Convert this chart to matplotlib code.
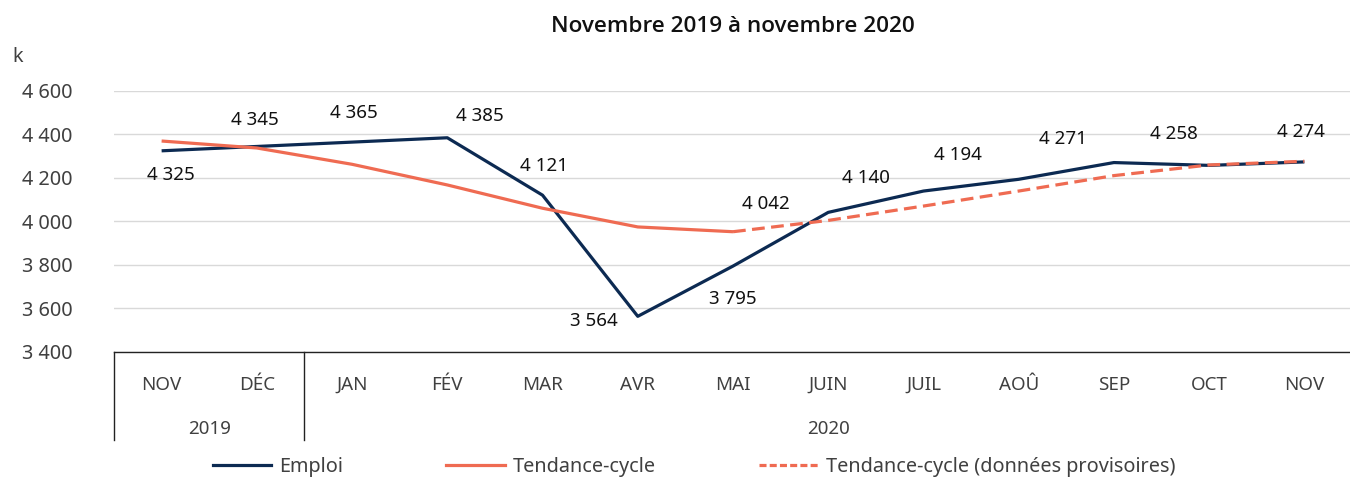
import numpy as np
import matplotlib
matplotlib.use("Agg")
import matplotlib.pyplot as plt
import matplotlib.transforms as mtransforms
from matplotlib.lines import Line2D

# ---- data ----
months = ["NOV", "DÉC", "JAN", "FÉV", "MAR", "AVR", "MAI", "JUIN", "JUIL", "AOÛ", "SEP", "OCT", "NOV"]
years = ["2019", "2020"]
year_spans = [(0, 1), (2, 12)]  # first and last month index of each year
emploi = [4325, 4345, 4365, 4385, 4121, 3564, 3795, 4042, 4140, 4194, 4271, 4258, 4274]
tendance = [4370, 4338, 4263, 4168, 4061, 3975, 3953, np.nan, np.nan, np.nan, np.nan, np.nan, np.nan]
tendance_prov = [np.nan, np.nan, np.nan, np.nan, np.nan, np.nan, 3953, 4005, 4071, 4140, 4211, 4260, 4277]
yticks = [3400, 3600, 3800, 4000, 4200, 4400, 4600]
# label offsets in pixels (dx, dy)
label_offsets = [(9, -24), (-2, 26), (2, 29), (33, 22), (2, 29), (-44, -5), (0, -33),
                 (-62, 8), (-58, 13), (-61, 24), (-51, 24), (-35, 31), (-3, 30)]

NAVY = "#0C2A52"
ORANGE = "#EF6B52"
GRID = "#D9D9D9"
TXT = "#404040"

plt.rcParams["font.family"] = ["Noto Sans", "DejaVu Sans"]
FS = 13.5
FT = 14.3

W, H = 1350, 478
fig = plt.figure(figsize=(W / 100, H / 100), dpi=100)
left, right, bottom, top = 114 / W, 1352 / W, 1 - 352 / H, 1 - 91 / H
ax = fig.add_axes([left, bottom, right - left, top - bottom])

x = np.arange(len(months))
ax.plot(x, emploi, color=NAVY, lw=2.3, solid_capstyle="butt", zorder=3)
ax.plot(x, tendance, color=ORANGE, lw=2.3, solid_capstyle="butt", zorder=4)
ax.plot(x, tendance_prov, color=ORANGE, lw=2.3, dashes=(4, 2), zorder=4)

ax.set_xlim(-0.5, len(months) - 0.5)
ax.set_ylim(yticks[0], yticks[-1])
ax.set_yticks(yticks)
ax.set_yticklabels([f"{v:,}".replace(",", " ") for v in yticks], fontsize=FT, color=TXT,
                   fontweight="light")
ax.tick_params(axis="y", length=0, pad=30)
for lbl in ax.get_yticklabels():
    lbl.set_horizontalalignment("right")
ax.grid(axis="y", color=GRID, lw=1)
ax.set_axisbelow(True)
for s in ["top", "right", "left"]:
    ax.spines[s].set_visible(False)
ax.spines["bottom"].set_color("#222222")
ax.spines["bottom"].set_linewidth(1)
ax.spines["bottom"].set_zorder(1)

ax.set_xticks(x)
ax.set_xticklabels(months, fontsize=FS, color=TXT, fontweight="light")
ax.tick_params(axis="x", length=0, pad=17)

trans = mtransforms.blended_transform_factory(ax.transData, ax.transAxes)
sep_depth = 88 / (352 - 91)
for (a, b), yr in zip(year_spans, years):
    ax.annotate(yr, xy=((a + b) / 2, 0), xycoords=trans, xytext=(0, -77),
                textcoords="offset pixels", ha="center", va="center",
                fontsize=FS, color=TXT, fontweight="light", annotation_clip=False)
    ax.add_line(Line2D([a - 0.5, a - 0.5], [0, -sep_depth], transform=trans,
                       color="#222222", lw=1, clip_on=False))

# data labels
for i, (v, (dx, dy)) in enumerate(zip(emploi, label_offsets)):
    ax.annotate(f"{v:,}".replace(",", " "), xy=(i, v), xytext=(dx, dy),
                textcoords="offset pixels", ha="center", va="center",
                fontsize=FS, color="#111111")

fig.text(18 / W, 1 - 57 / H, "k", fontsize=FT, color=TXT, ha="center", va="center",
         fontweight="light")
fig.text((left + right) / 2, 1 - 27 / H, "Novembre 2019 à novembre 2020",
         fontsize=16.2, fontweight="semibold", family=["Open Sans", "DejaVu Sans"],
         fontstretch="normal", color="#111111", ha="center", va="center")

handles = [Line2D([], [], color=NAVY, lw=2.3),
           Line2D([], [], color=ORANGE, lw=2.3),
           Line2D([], [], color=ORANGE, lw=2.3, dashes=(2.2, 1))]
leg = fig.legend(handles, ["Emploi", "Tendance-cycle", "Tendance-cycle (données provisoires)"],
                 loc="center", bbox_to_anchor=(694 / W, 1 - 467 / H), ncol=3, frameon=False,
                 prop={"size": FT, "weight": "light"}, handlelength=2.95, handletextpad=0.4,
                 columnspacing=5.2, labelcolor=TXT)

fig.savefig("out.png", dpi=100)
